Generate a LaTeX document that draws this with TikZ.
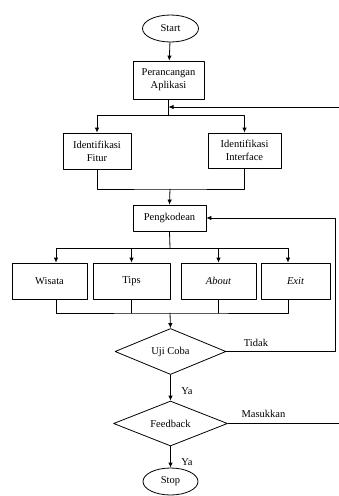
\documentclass[tikz,border=0pt]{standalone}
\usepackage{fontspec}
\setmainfont{Liberation Serif}
\usetikzlibrary{arrows.meta,shapes.geometric}
\begin{document}
\begin{tikzpicture}[x=1pt,y=-1pt,line cap=round,line join=round,
  font=\fontsize{10.5}{13}\selectfont,
  box/.style={draw,line width=0.8pt,rectangle,align=center,inner sep=1pt},
  term/.style={draw,line width=0.8pt,ellipse,inner sep=0pt},
  cond/.style={draw,line width=0.8pt,diamond,aspect=2.4,inner sep=0pt},
  flow/.style={line width=0.8pt,-{Latex[length=5pt,width=4.5pt]}},
  link/.style={line width=0.8pt}]
  \useasboundingbox (0,0) rectangle (339,496);
  \node[term,minimum width=56,minimum height=27] (start) at (170.5,28.5) {Start};
  \node[box,minimum width=71,minimum height=38] (perancangan) at (168.5,80) {Perancangan\\Aplikasi};
  \node[box,minimum width=68,minimum height=36] (fitur) at (97,151) {Identifikasi\\Fitur};
  \node[box,minimum width=73,minimum height=35] (interface) at (244.5,150.5) {Identifikasi\\Interface};
  \node[box,minimum width=73,minimum height=26] (pengkodean) at (169.5,218) {Pengkodean};
  \node[box,minimum width=75,minimum height=36] (wisata) at (49.5,281) {Wisata};
  \node[box,minimum width=77,minimum height=36] (tips) at (131.5,281) {Tips};
  \node[box,minimum width=75,minimum height=36] (about) at (218.5,281) {\itshape About};
  \node[box,minimum width=69,minimum height=36] (exit) at (295.5,281) {\itshape Exit};
  \node[cond,minimum width=111,minimum height=46] (uji) at (170.5,351.5) {Uji Coba};
  \node[cond,minimum width=114,minimum height=45] (feedback) at (170.5,423.5) {Feedback};
  \node[term,minimum width=55,minimum height=27] (stop) at (170.5,481.5) {Stop};
  \coordinate (split1) at (168.5,115);
  \coordinate (back1) at (339,107);
  \coordinate (merge1) at (170,189);
  \coordinate (split2) at (170,248);
  \coordinate (merge2) at (170,313);
  \coordinate (loop2) at (335,218);
  \coordinate (masuk) at (339,423.5);
  \draw[flow] (start) -- (perancangan);
  \draw[link] (perancangan.south) -- (split1);
  \draw[flow] (split1) -| (fitur.north);
  \draw[flow] (split1) -| (interface.north);
  \draw[flow] (back1) -- (back1 -| perancangan.south);
  \draw[link] (fitur.south) |- (merge1) -| (interface.south);
  \draw[flow] (merge1) -- (pengkodean.north);
  \draw[link] (pengkodean.south) -- (split2);
  \draw[flow] (split2) -| ([xshift=6.5pt]wisata.north);
  \draw[flow] (split2) -| (tips.north);
  \draw[flow] (split2) -| (about.north);
  \draw[flow] (split2) -| ([xshift=-7.5pt]exit.north);
  \draw[link] ([xshift=6.5pt]wisata.south) |- (merge2) -| ([xshift=-7.5pt]exit.south);
  \draw[link] (tips.south) -- (tips.south |- merge2);
  \draw[link] (about.south) -- (about.south |- merge2);
  \draw[flow] (merge2) -- (uji.north);
  \draw[flow] (uji.east) -- (uji.east -| loop2) |- (pengkodean.east);
  \node (tidak) at (256,343) {Tidak};
  \draw[flow] (uji.south) -- (feedback.north);
  \node (ya1) at (187,391) {Ya};
  \draw[link] (feedback.east) -- (masuk);
  \node (masukkan) at (263.5,414) {Masukkan};
  \draw[flow] (feedback.south) -- (stop.north);
  \node (ya2) at (187,462) {Ya};
\end{tikzpicture}
\end{document}
